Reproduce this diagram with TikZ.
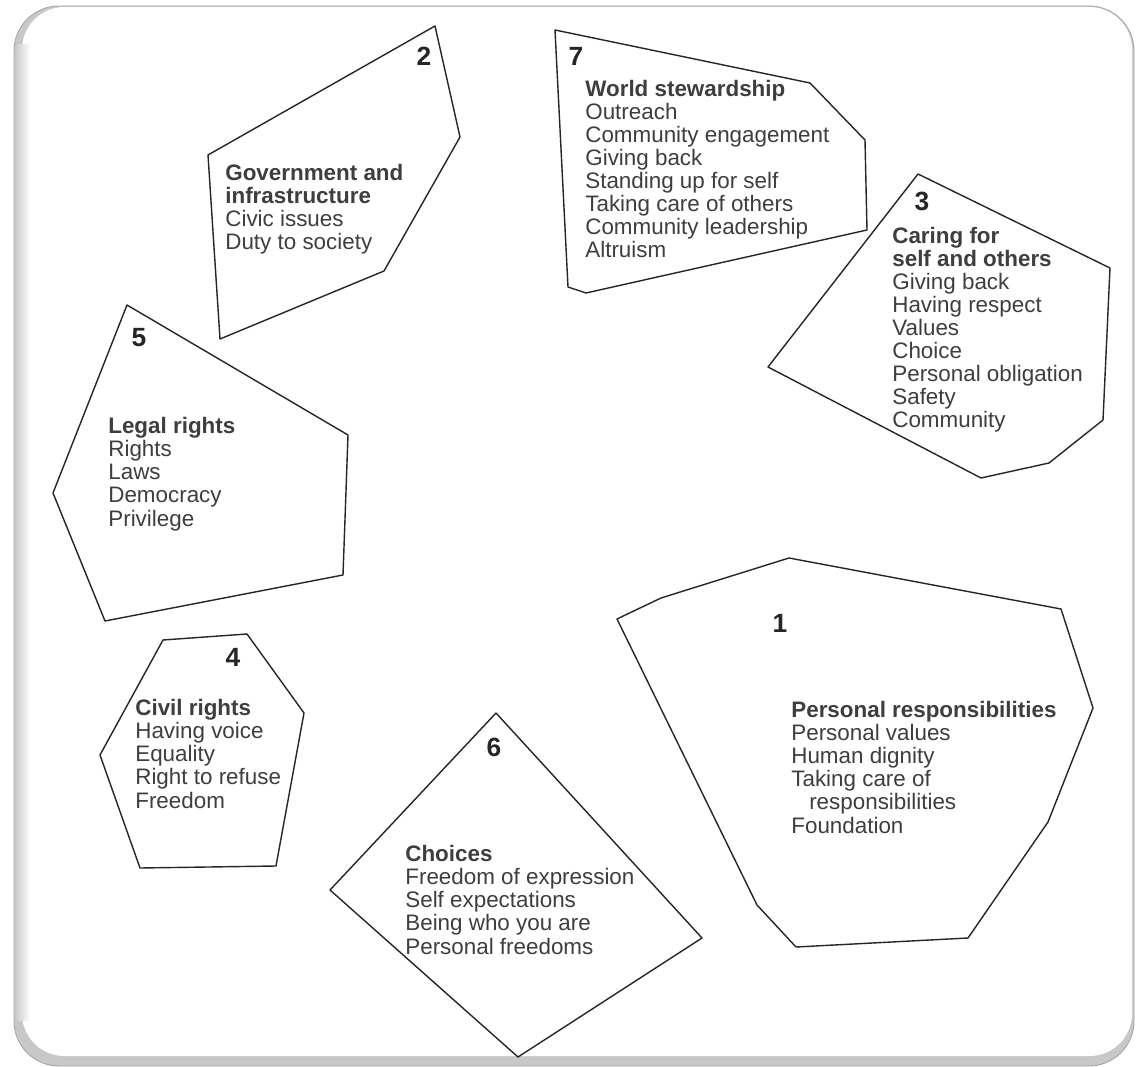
\documentclass[tikz,border=0pt]{standalone}
\usepackage{fontspec}
\setmainfont{Liberation Sans}
\usepackage{tikz}
\definecolor{mapInk}{RGB}{38,38,38}
\definecolor{mapText}{RGB}{62,62,62}
\definecolor{mapShade}{RGB}{200,200,200}

\begin{document}
\begin{tikzpicture}[
    x=0.02cm, y=-0.02cm,
    region/.style={draw=mapInk, line width=0.8pt, line join=round},
    numlabel/.style={inner sep=0pt, font=\fontsize{15}{15}\selectfont\bfseries, text=mapInk},
    itemlist/.style={anchor=base west, align=left, inner sep=0pt, font=\fontsize{12.75}{13.1}\selectfont, text=mapText}
]
\useasboundingbox (0,0) rectangle (1136,1067);

% Frame
\fill[mapShade, rounded corners=0.9cm] (14,6) rectangle (1134,1066);
\fill[white, rounded corners=0.85cm] (22,7) rectangle (1132,1056);
\shade[left color=mapShade, right color=white] (15,45) rectangle (30,1020);
\draw[black!35, line width=0.5pt, rounded corners=0.9cm] (14,6) rectangle (1134,1066);

% Region 1 (lists are placed at the baseline of their last line)
\draw[region] (789,558) -- (1061,609) -- (1093,708) -- (1048,822) -- (968,938) -- (796,947) -- (757,905) -- (617,619) -- (661,598) -- cycle;
\node (num1) at (780,623) [numlabel] {1};
\node (blk1) at (791,833) [itemlist] {\textbf{Personal responsibilities}\\Personal values\\Human dignity\\Taking care of\\\hspace*{10.2pt}responsibilities\\Foundation};

% Region 2
\draw[region] (435,26) -- (460,137) -- (384,271) -- (220,339) -- (208,155) -- cycle;
\node (num2) at (424,56) [numlabel] {2};
\node (blk2) at (225,250) [itemlist] {\textbf{Government and}\\\textbf{infrastructure}\\Civic issues\\Duty to society};

% Region 3
\draw[region] (918,174) -- (1110,268) -- (1103,420) -- (1049,463) -- (981,478) -- (768,367) -- cycle;
\node (num3) at (922,201) [numlabel] {3};
\node (blk3) at (892,428) [itemlist] {\textbf{Caring for}\\\textbf{self and others}\\Giving back\\Having respect\\Values\\Choice\\Personal obligation\\Safety\\Community};

% Region 4
\draw[region] (163,640) -- (247,634) -- (304,713) -- (276,866) -- (140,868) -- (100,755) -- cycle;
\node (num4) at (233,657) [numlabel] {4};
\node (blk4) at (135,808) [itemlist] {\textbf{Civil rights}\\Having voice\\Equality\\Right to refuse\\Freedom};

% Region 5
\draw[region] (127,305) -- (348,435) -- (343,575) -- (105,621) -- (53,493) -- cycle;
\node (num5) at (139,338) [numlabel] {5};
\node (blk5) at (108,526) [itemlist] {\textbf{Legal rights}\\Rights\\Laws\\Democracy\\Privilege};

% Region 6
\draw[region] (496,713) -- (702,938) -- (518,1057) -- (330,890) -- cycle;
\node (num6) at (494,747) [numlabel] {6};
\node (blk6) at (405,954) [itemlist] {\textbf{Choices}\\Freedom of expression\\Self expectations\\Being who you are\\Personal freedoms};

% Region 7
\draw[region] (555,30) -- (810,83) -- (865,140) -- (867,230) -- (586,293) -- (568,287) -- cycle;
\node (num7) at (576,56) [numlabel] {7};
\node (blk7) at (585,258) [itemlist] {\textbf{World stewardship}\\Outreach\\Community engagement\\Giving back\\Standing up for self\\Taking care of others\\Community leadership\\Altruism};

\end{tikzpicture}
\end{document}
